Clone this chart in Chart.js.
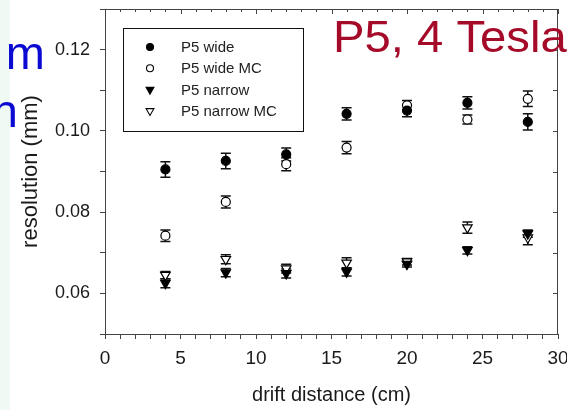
<!DOCTYPE html>
<html>
<head>
<meta charset="utf-8">
<script src="https://cdn.jsdelivr.net/npm/chart.js@4.4.1/dist/chart.umd.min.js"></script>
<style>
  html, body { margin: 0; padding: 0; background: #ffffff; }
  #wrap { width: 567px; height: 410px; }
</style>
</head>
<body>
<div id="wrap"><canvas id="myChart" width="567" height="410"></canvas></div>
<script>
// drift distance (cm)
const drift = [4, 8, 12, 16, 20, 24, 28];

// resolution (mm), with error bar half-widths
const wide        = [0.0905, 0.0926, 0.0942, 0.1042, 0.1050, 0.1069, 0.1022];
const wideErr     = [0.0019, 0.0019, 0.0016, 0.0015, 0.0015, 0.0015, 0.0020];
const wideMC      = [0.0742, 0.0825, 0.0918, 0.0959, 0.1063, 0.1028, 0.1079];
const wideMCErr   = [0.0014, 0.0015, 0.0016, 0.0015, 0.0012, 0.0011, 0.0019];
const narrow      = [0.0625, 0.0651, 0.0649, 0.0653, 0.0672, 0.0706, 0.0747];
const narrowErr   = [0.0011, 0.0010, 0.0011, 0.0010, 0.0007, 0.0009, 0.0009];
const narrowMC    = [0.0645, 0.0684, 0.0661, 0.0675, 0.0678, 0.0762, 0.0737];
const narrowMCErr = [0.0009, 0.0011, 0.0011, 0.0013, 0.0008, 0.0014, 0.0017];

const seriesLabels = ['P5 wide', 'P5 wide MC', 'P5 narrow', 'P5 narrow MC'];
const titleText = 'P5, 4 Tesla';

const FONT = '"Liberation Sans", Arial, sans-serif';

const toPoints = (ys) => {
  let pts = [];
  for (let i = 0; i < drift.length; i++) {
    pts.push({ x: drift[i], y: ys[i] });
  }
  return pts;
};

const makeSet = (label, ys, errs, style, filled) => ({
  label: label,
  data: toPoints(ys),
  errors: errs,
  pointStyle: style,
  rotation: style === 'triangle' ? 180 : 0,
  pointRadius: style === 'triangle' ? 5.5 : 4.5,
  pointHoverRadius: style === 'triangle' ? 5.5 : 4.5,
  backgroundColor: filled ? '#000000' : '#ffffff',
  borderColor: '#000000',
  borderWidth: 1.2,
  showLine: false
});

// error bars, drawn under the markers
const errorBars = {
  id: 'errorBars',
  beforeDatasetsDraw(chart) {
    const ctx = chart.ctx;
    const yScale = chart.scales.y;
    ctx.save();
    ctx.strokeStyle = '#111';
    ctx.lineWidth = 1.5;
    chart.data.datasets.forEach((ds, i) => {
      const meta = chart.getDatasetMeta(i);
      meta.data.forEach((pt, j) => {
        const v = ds.data[j].y;
        const e = ds.errors[j];
        const y1 = yScale.getPixelForValue(v + e);
        const y2 = yScale.getPixelForValue(v - e);
        ctx.beginPath();
        ctx.moveTo(pt.x, y1); ctx.lineTo(pt.x, y2);
        ctx.moveTo(pt.x - 5, y1); ctx.lineTo(pt.x + 5, y1);
        ctx.moveTo(pt.x - 5, y2); ctx.lineTo(pt.x + 5, y2);
        ctx.stroke();
      });
    });
    ctx.restore();
  }
};

// background strip, frame with inward ticks, legend box, texts
const decorations = {
  id: 'decorations',
  beforeDraw(chart) {
    const ctx = chart.ctx;
    ctx.save();
    ctx.fillStyle = '#eefaf3';
    ctx.fillRect(0, 0, 10, chart.height);
    ctx.restore();
  },
  afterDraw(chart) {
    const ctx = chart.ctx;
    const a = chart.chartArea;
    const xs = chart.scales.x, ys = chart.scales.y;
    ctx.save();

    // top and right frame
    ctx.strokeStyle = '#444';
    ctx.lineWidth = 1;
    ctx.beginPath();
    ctx.moveTo(a.left, a.top + 0.5); ctx.lineTo(a.right, a.top + 0.5);
    ctx.moveTo(a.right - 0.5, a.top); ctx.lineTo(a.right - 0.5, a.bottom);
    xs.ticks.forEach(t => {
      const px = Math.round(xs.getPixelForValue(t.value)) + 0.5;
      const len = t.value % 5 === 0 ? 5 : 3;
      ctx.moveTo(px, a.top); ctx.lineTo(px, a.top + len);
    });
    ys.ticks.forEach(t => {
      const py = Math.round(ys.getPixelForValue(t.value)) + 0.5;
      ctx.moveTo(a.right, py); ctx.lineTo(a.right - 5, py);
    });
    ctx.stroke();

    // legend
    ctx.strokeStyle = '#111';
    ctx.lineWidth = 1;
    ctx.strokeRect(123.5, 28.5, 180, 103);
    ctx.font = '15px ' + FONT;
    ctx.textBaseline = 'middle';
    ctx.textAlign = 'left';
    chart.data.datasets.forEach((ds, i) => {
      const yy = 47 + i * 21.3;
      ctx.fillStyle = ds.backgroundColor;
      ctx.strokeStyle = ds.borderColor;
      ctx.lineWidth = 1.1;
      Chart.helpers.drawPoint(ctx, {
        pointStyle: ds.pointStyle,
        rotation: ds.rotation,
        radius: ds.pointStyle === 'triangle' ? 4.5 : 3.5,
        borderWidth: 1.1
      }, 150, yy);
      ctx.fillStyle = '#222';
      ctx.fillText(seriesLabels[i], 181, yy + 1);
    });

    // title inside the plot, slightly stretched like the slide text
    ctx.save();
    ctx.fillStyle = '#a50a28';
    ctx.font = '45px ' + FONT;
    ctx.textBaseline = 'alphabetic';
    ctx.textAlign = 'left';
    ctx.translate(333, 52);
    ctx.scale(1.05, 1);
    ctx.fillText(titleText, 0, 0);
    ctx.restore();

    // fragments of slide text at the left edge
    ctx.fillStyle = '#0a0ad2';
    ctx.font = '47px ' + FONT;
    ctx.textAlign = 'right';
    ctx.fillText('m', 45, 56);
    ctx.fillText('n', 18, 114);

    ctx.restore();
  }
};

const ctx = document.getElementById('myChart').getContext('2d');
const myChart = new Chart(ctx, {
  type: 'scatter',
  data: {
    datasets: [
      makeSet(seriesLabels[0], wide, wideErr, 'circle', true),
      makeSet(seriesLabels[1], wideMC, wideMCErr, 'circle', false),
      makeSet(seriesLabels[2], narrow, narrowErr, 'triangle', true),
      makeSet(seriesLabels[3], narrowMC, narrowMCErr, 'triangle', false)
    ]
  },
  options: {
    responsive: false,
    animation: false,
    events: [],
    layout: { padding: { top: 9, right: 9, left: 0, bottom: 0 } },
    plugins: {
      legend: { display: false },
      tooltip: { enabled: false }
    },
    scales: {
      x: {
        type: 'linear',
        min: 0,
        max: 30,
        afterFit: (scale) => {
          scale.height = 76;
          scale.paddingLeft = 0;
          scale.paddingRight = 0;
        },
        ticks: {
          stepSize: 1,
          autoSkip: false,
          maxRotation: 0,
          padding: 8,
          color: '#1a1a1a',
          font: { family: FONT, size: 19 },
          callback: (v) => (v % 5 === 0 ? String(v) : '')
        },
        grid: { drawOnChartArea: false, tickLength: 5, color: '#444' },
        border: { color: '#444', width: 1 },
        title: {
          display: true,
          text: 'drift distance (cm)',
          color: '#1a1a1a',
          font: { family: FONT, size: 20 },
          padding: { top: 0, bottom: 3 }
        }
      },
      y: {
        min: 0.05,
        max: 0.13,
        afterFit: (scale) => {
          scale.width = 105;
          scale.paddingTop = 0;
          scale.paddingBottom = 0;
        },
        ticks: {
          stepSize: 0.01,
          autoSkip: false,
          padding: 10,
          color: '#1a1a1a',
          font: { family: FONT, size: 18 },
          callback: (v) => (Math.round(v * 100) % 2 === 0 ? v.toFixed(2) : '')
        },
        grid: { drawOnChartArea: false, tickLength: 5, color: '#444' },
        border: { color: '#444', width: 1 },
        title: {
          display: true,
          text: 'resolution (mm)',
          color: '#1a1a1a',
          font: { family: FONT, size: 22 },
          padding: { top: 18, bottom: 0 }
        }
      }
    }
  },
  plugins: [errorBars, decorations]
});
</script>
</body>
</html>
